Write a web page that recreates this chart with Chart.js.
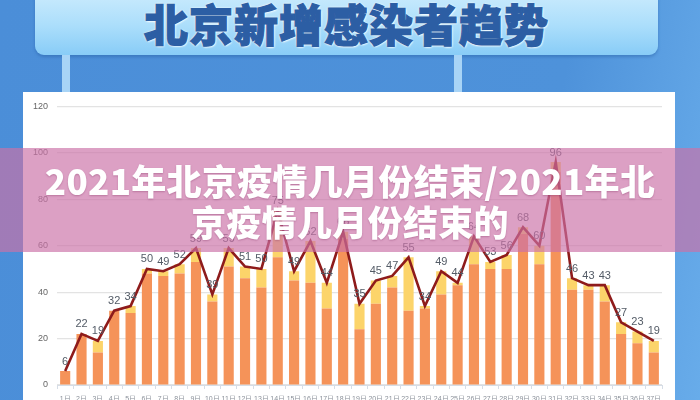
<!DOCTYPE html>
<html>
<head>
<meta charset="utf-8">
<script src="https://cdn.jsdelivr.net/npm/chart.js@4"></script>
<style>
  html, body { margin: 0; padding: 0; }
  body {
    width: 700px; height: 400px; overflow: hidden; position: relative;
    background: linear-gradient(100deg, #4b8ed8 0%, #4e92da 75%, #68acea 100%);
    font-family: "Noto Sans CJK SC", "Noto Sans", sans-serif;
  }
  .banner {
    position: absolute; left: 35px; top: -10px; width: 623px; height: 65px;
    border-radius: 9px;
    background: linear-gradient(180deg, #cdecfd 0%, #abdefb 55%, #88ccf7 100%);
    box-shadow: 0 2px 3px rgba(30,80,150,0.35);
  }
  .banner h1 {
    margin: 0; position: absolute; left: 0; right: 0; top: 8px;
    text-align: center; font-size: 44px; font-weight: 900; letter-spacing: 1px;
    color: #2c5ea4; line-height: 50px;
    -webkit-text-stroke: 1.2px #2c5ea4;
    text-shadow: 0 0 2px #fff, 0 0 3px #fff, 1px 1px 2px #fff;
  }
  .post { position: absolute; top: 55px; width: 8px; height: 38px; background: #a8d4f6; }
  .panel {
    position: absolute; left: 23px; top: 92px; width: 652px; height: 330px;
    background: #ffffff;
  }
  #chart { position: absolute; left: 23px; top: 92px; }
  .band {
    position: absolute; left: 0; top: 148px; width: 700px; height: 104px;
    background: rgba(203,114,167,0.67);
    color: #fff; text-align: center; font-weight: 900; font-size: 35px; line-height: 41px;
    padding-top: 11px; box-sizing: border-box; letter-spacing: 0.3px;
    text-shadow: 0 1px 2px rgba(120,40,90,0.35);
  }
</style>
</head>
<body>
<div class="banner"><h1>北京新增感染者趋势</h1></div>
<div class="post" style="left:62px"></div>
<div class="post" style="left:454px"></div>
<div class="panel"></div>
<canvas id="chart" width="652" height="308"></canvas>
<div class="band">2021年北京疫情几月份结束/2021年北<br>京疫情几月份结束的</div>
<script>
// x轴日期（原图标签不可辨认）
var days = ['1日','2日','3日','4日','5日','6日','7日','8日','9日','10日','11日','12日','13日',
            '14日','15日','16日','17日','18日','19日','20日','21日','22日','23日','24日','25日',
            '26日','27日','28日','29日','30日','31日','32日','33日','34日','35日','36日','37日'];
// 每日新增合计（折线）
var totals = [6, 22, 19, 32, 34, 50, 49, 52, 59, 39, 59, 51, 50, 75, 49, 62, 44, 66, 35, 45, 47,
              55, 34, 49, 44, 64, 53, 56, 68, 60, 96, 46, 43, 43, 27, 23, 19];
// 橙色部分
var partA = [6, 22, 14, 32, 31, 48, 47, 48, 53, 36, 51, 46, 42, 55, 45, 44, 33, 63, 24, 35, 42,
             32, 33, 39, 43, 52, 50, 50, 65, 52, 92, 41, 41, 36, 22, 18, 14];
// 黄色部分
var partB = [0, 0, 5, 0, 3, 2, 2, 4, 6, 3, 8, 5, 8, 20, 4, 18, 11, 3, 11, 10, 5,
             23, 1, 10, 1, 12, 3, 6, 3, 8, 4, 5, 2, 7, 5, 5, 5];
var yTicks = [0, 20, 40, 60, 80, 100, 120];

var lineLabels = {
  id: 'lineLabels',
  afterDatasetsDraw: function(chart) {
    var ctx = chart.ctx;
    var meta = chart.getDatasetMeta(2);
    ctx.save();
    ctx.font = '11px "Liberation Sans", sans-serif';
    ctx.fillStyle = '#535b66';
    ctx.textAlign = 'center';
    ctx.textBaseline = 'bottom';
    meta.data.forEach(function(pt, i) {
      ctx.fillText(totals[i], pt.x, pt.y - 4);
    });
    ctx.restore();
  }
};

var ctx = document.getElementById('chart').getContext('2d');
var chart = new Chart(ctx, {
  type: 'bar',
  data: {
    labels: days,
    datasets: [
      { label: 'A', data: partA, backgroundColor: '#f59359', stack: 's', order: 2,
        barPercentage: 0.62, categoryPercentage: 1 },
      { label: 'B', data: partB, backgroundColor: '#fcd46a', stack: 's', order: 2,
        barPercentage: 0.62, categoryPercentage: 1 },
      { label: '合计', type: 'line', data: totals, borderColor: '#8e1b1b', borderWidth: 2.6,
        pointRadius: 0, tension: 0, order: 1 }
    ]
  },
  options: {
    responsive: false,
    animation: false,
    layout: { padding: { top: 14, right: 13, left: 0, bottom: 0 } },
    plugins: { legend: { display: false }, tooltip: { enabled: false } },
    scales: {
      x: {
        stacked: true,
        grid: { display: true, drawOnChartArea: false, tickLength: 4, color: '#d6dde6' },
        border: { color: '#d6dde6' },
        ticks: { font: { size: 7 }, color: '#8a9099', padding: 6, maxRotation: 0, autoSkip: false },
        afterFit: function(s) { s.height = 15; }
      },
      y: {
        stacked: true, min: 0, max: 120,
        afterBuildTicks: function(s) { s.ticks = yTicks.map(function(v) { return { value: v }; }); },
        grid: { color: '#e3e3e3', lineWidth: 1.2, drawTicks: false },
        border: { display: false },
        ticks: { font: { size: 9 }, color: '#666', padding: 9 },
        afterFit: function(s) { s.width = 34; }
      }
    }
  },
  plugins: [lineLabels]
});
</script>
</body>
</html>
